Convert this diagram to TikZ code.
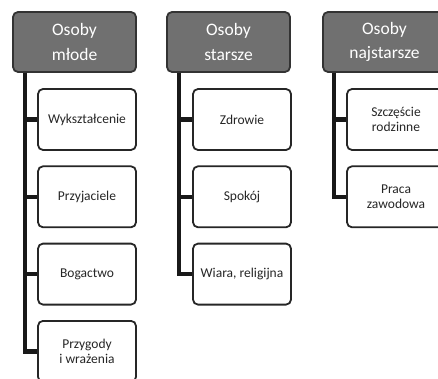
\documentclass[tikz,border=0pt]{standalone}
\usepackage{fontspec}
\setmainfont{Carlito}
\begin{document}
\begin{tikzpicture}[x=1pt,y=-1pt,
		head/.style={draw=black!80,line width=1.8pt,fill=black!56,rounded corners=5pt,text=white,
			minimum width=123pt,minimum height=60pt,align=center,inner sep=0pt,
			font=\fontsize{17.5}{24.5}\selectfont},
		item/.style={draw=black!85,line width=1.8pt,fill=white,rounded corners=5pt,text=black!85,
			minimum width=98pt,minimum height=61pt,align=center,inner sep=0pt,
			font=\fontsize{13.5}{15.5}\selectfont},
		trunk/.style={line width=4.5pt,black!90}]
		\useasboundingbox (0,0) rectangle (438,379);
		\clip (0,0) rectangle (438,379);
		
		\node[head] (hm) at (74.5,42) {Osoby\\młode};
		\node[head] (hs) at (228.5,42) {Osoby\\starsze};
		\node[head] (hn) at (384.5,42) {Osoby\\najstarsze};
		
		\coordinate (tm) at ([xshift=13pt]hm.south west);
		\coordinate (ts) at ([xshift=13pt]hs.south west);
		\coordinate (tn) at ([xshift=12pt]hn.south west);
		
		\draw[trunk] (tm) |- (87,351.4);
		\draw[trunk] (ts) |- (242,274.1);
		\draw[trunk] (tn) |- (396,196.8);
		
		\node[item] (m1) at (87,119.5) {Wykształcenie};
		\node[item] (m2) at (87,196.8) {Przyjaciele};
		\node[item] (m3) at (87,274.1) {Bogactwo};
		\node[item] (m4) at (87,351.4) {Przygody\\i wrażenia};
		\draw[trunk] (tm) |- (m1.west);
		\draw[trunk] (tm) |- (m2.west);
		\draw[trunk] (tm) |- (m3.west);
		\draw[trunk] (tm) |- (m4.west);
		
		\node[item] (s1) at (242,119.5) {Zdrowie};
		\node[item] (s2) at (242,196.8) {Spokój};
		\node[item] (s3) at (242,274.1) {Wiara, religijna};
		\draw[trunk] (ts) |- (s1.west);
		\draw[trunk] (ts) |- (s2.west);
		\draw[trunk] (ts) |- (s3.west);
		
		\node[item] (n1) at (396,119.5) {Szczęście\\rodzinne};
		\node[item] (n2) at (396,196.8) {Praca\\zawodowa};
		\draw[trunk] (tn) |- (n1.west);
		\draw[trunk] (tn) |- (n2.west);
	\end{tikzpicture}
\end{document}
